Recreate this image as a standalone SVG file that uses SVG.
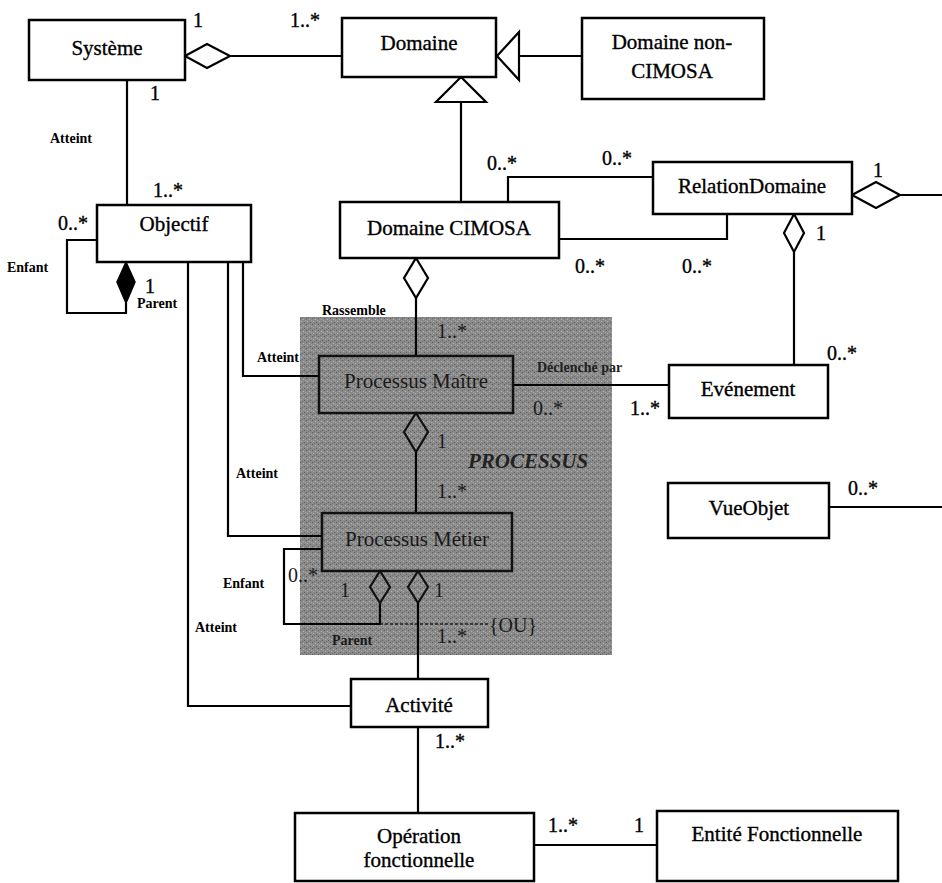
<svg xmlns="http://www.w3.org/2000/svg" width="942" height="883" viewBox="0 0 942 883">
<style>
.box{fill:#fff;stroke:#000;stroke-width:2.5}
.gbox{fill:none;stroke:#111;stroke-width:2.5}
.ln{fill:none;stroke:#000;stroke-width:2.2}
.dash{fill:none;stroke:#222;stroke-width:1.6;stroke-dasharray:3 2}
.dia{fill:#fff;stroke:#000;stroke-width:2.2}
.dia2{fill:none;stroke:#111;stroke-width:2.2}
.fill{fill:#000;stroke:#000;stroke-width:1.5}
.tx{stroke:#000;stroke-width:0.35}
</style>
<defs>
<pattern id="ht" width="6" height="6" patternUnits="userSpaceOnUse">
<rect width="6" height="6" fill="#8a8a8a"/>
<rect x="0" y="0" width="1" height="1" fill="#5a5a5a"/>
<rect x="3" y="1" width="1" height="1" fill="#b4b4b4"/>
<rect x="1" y="3" width="1" height="1" fill="#b0b0b0"/>
<rect x="4" y="4" width="1" height="1" fill="#606060"/>
<rect x="2" y="5" width="1" height="1" fill="#707070"/>
<rect x="5" y="2" width="1" height="1" fill="#a8a8a8"/>
</pattern>
</defs>
<rect width="942" height="883" fill="#fff"/>
<rect id="processus-zone" x="300" y="317" width="312" height="338" fill="url(#ht)"/>
<text x="468" y="468" font-family="Liberation Serif" font-size="21" font-style="italic" font-weight="bold" fill="#222">PROCESSUS</text>

<g id="connectors">
<polygon class="dia" points="185,56 207,44 230,56 207,68"/>
<line class="ln" x1="230" y1="56" x2="342" y2="56"/>
<polygon class="dia" points="497,56 519,32 519,80"/>
<line class="ln" x1="519" y1="56" x2="582" y2="56"/>
<polygon class="dia" points="461,77 486,102 436,102"/>
<line class="ln" x1="461" y1="102" x2="461" y2="202"/>
<line class="ln" x1="127" y1="80" x2="127" y2="205"/>
<polyline class="ln" points="97,240 67,240 67,313 126,313 126,303"/>
<polygon class="fill" points="126,262 135,282 126,303 117,282"/>
<polyline class="ln" points="243,262 243,376 319,376"/>
<polyline class="ln" points="228,262 228,536 322,536"/>
<polyline class="ln" points="188,262 188,706 351,706"/>
<polyline class="ln" points="508,202 508,177 653,177"/>
<polyline class="ln" points="559,239 727,239 727,214"/>
<polygon class="dia" points="416,258 428,278 416,298 404,278"/>
<line class="ln" x1="416" y1="298" x2="416" y2="356"/>
<line class="ln" x1="513" y1="385" x2="669" y2="385"/>
<polygon class="dia" points="852,195 876,182 900,195 876,208"/>
<line class="ln" x1="900" y1="195" x2="942" y2="195"/>
<polygon class="dia" points="794,214 804,233 794,252 784,233"/>
<line class="ln" x1="794" y1="252" x2="794" y2="365"/>
<polygon class="dia2" points="416,413 428,432 416,452 404,432"/>
<line class="ln" x1="416" y1="452" x2="416" y2="513"/>
<line class="ln" x1="829" y1="507" x2="942" y2="507"/>
<polyline class="ln" points="322,549 284,549 284,624 380,624 380,603"/>
<polygon class="dia2" points="380,571 390,587 380,603 370,587"/>
<polygon class="dia2" points="418,571 428,587 418,603 408,587"/>
<line class="dash" x1="380" y1="624" x2="489" y2="624"/>
<line class="ln" x1="418" y1="603" x2="418" y2="679"/>
<line class="ln" x1="418" y1="727" x2="418" y2="813"/>
<line class="ln" x1="534" y1="845" x2="657" y2="845"/>
</g>

<g id="systeme"><rect class="box" x="29" y="20" width="156" height="60"/><text class="tx" font-family="Liberation Serif" font-size="21" text-anchor="middle" x="107" y="55">Système</text></g>
<g id="domaine"><rect class="box" x="342" y="18" width="154" height="59"/><text class="tx" font-family="Liberation Serif" font-size="21" text-anchor="middle" x="419" y="50">Domaine</text></g>
<g id="domaine-non-cimosa"><rect class="box" x="582" y="18" width="182" height="81"/><text class="tx" font-family="Liberation Serif" font-size="21" text-anchor="middle" x="672" y="49">Domaine non-</text><text class="tx" font-family="Liberation Serif" font-size="21" text-anchor="middle" x="672" y="78">CIMOSA</text></g>
<g id="domaine-cimosa"><rect class="box" x="340" y="202" width="219" height="56"/><text class="tx" font-family="Liberation Serif" font-size="21" text-anchor="middle" x="449" y="235">Domaine CIMOSA</text></g>
<g id="relation-domaine"><rect class="box" x="653" y="162" width="199" height="52"/><text class="tx" font-family="Liberation Serif" font-size="21" text-anchor="middle" x="752" y="193">RelationDomaine</text></g>
<g id="objectif"><rect class="box" x="97" y="205" width="154" height="57"/><text class="tx" font-family="Liberation Serif" font-size="21" text-anchor="middle" x="174" y="231">Objectif</text></g>
<g id="processus-maitre"><rect class="gbox" x="319" y="356" width="194" height="57"/><text font-family="Liberation Serif" font-size="21" text-anchor="middle" fill="#1a1a1a" x="416" y="388">Processus Maître</text></g>
<g id="processus-metier"><rect class="gbox" x="322" y="513" width="190" height="58"/><text font-family="Liberation Serif" font-size="21" text-anchor="middle" fill="#1a1a1a" x="417" y="546">Processus Métier</text></g>
<g id="evenement"><rect class="box" x="669" y="365" width="159" height="53"/><text class="tx" font-family="Liberation Serif" font-size="21" text-anchor="middle" x="748" y="396">Evénement</text></g>
<g id="vueobjet"><rect class="box" x="668" y="483" width="161" height="55"/><text class="tx" font-family="Liberation Serif" font-size="21" text-anchor="middle" x="749" y="515">VueObjet</text></g>
<g id="activite"><rect class="box" x="351" y="679" width="137" height="48"/><text class="tx" font-family="Liberation Serif" font-size="21" text-anchor="middle" x="419" y="712">Activité</text></g>
<g id="operation"><rect class="box" x="295" y="813" width="239" height="68"/><text class="tx" font-family="Liberation Serif" font-size="21" text-anchor="middle" x="419" y="843">Opération</text><text class="tx" font-family="Liberation Serif" font-size="21" text-anchor="middle" x="419" y="867">fonctionnelle</text></g>
<g id="entite"><rect class="box" x="657" y="811" width="241" height="70"/><text class="tx" font-family="Liberation Serif" font-size="21" text-anchor="middle" x="777" y="841">Entité Fonctionnelle</text></g>

<g id="multiplicities">
<text class="tx" font-family="Liberation Serif" font-size="20" x="193" y="27">1</text>
<text class="tx" font-family="Liberation Serif" font-size="20" x="290" y="27">1..*</text>
<text class="tx" font-family="Liberation Serif" font-size="20" x="150" y="100">1</text>
<text class="tx" font-family="Liberation Serif" font-size="20" x="153" y="197">1..*</text>
<text class="tx" font-family="Liberation Serif" font-size="20" x="58" y="230">0..*</text>
<text class="tx" font-family="Liberation Serif" font-size="20" x="145" y="293">1</text>
<text class="tx" font-family="Liberation Serif" font-size="20" x="487" y="170">0..*</text>
<text class="tx" font-family="Liberation Serif" font-size="20" x="602" y="165">0..*</text>
<text class="tx" font-family="Liberation Serif" font-size="20" x="873" y="177">1</text>
<text class="tx" font-family="Liberation Serif" font-size="20" x="575" y="273">0..*</text>
<text class="tx" font-family="Liberation Serif" font-size="20" x="682" y="273">0..*</text>
<text class="tx" font-family="Liberation Serif" font-size="20" x="816" y="240">1</text>
<text class="tx" font-family="Liberation Serif" font-size="20" x="827" y="360">0..*</text>
<text class="tx" font-family="Liberation Serif" font-size="20" x="630" y="415">1..*</text>
<text font-family="Liberation Serif" font-size="20" fill="#1a1a1a" x="533" y="415">0..*</text>
<text font-family="Liberation Serif" font-size="20" fill="#1a1a1a" x="437" y="338">1..*</text>
<text font-family="Liberation Serif" font-size="20" fill="#1a1a1a" x="437" y="448">1</text>
<text font-family="Liberation Serif" font-size="20" fill="#1a1a1a" x="437" y="498">1..*</text>
<text font-family="Liberation Serif" font-size="20" fill="#1a1a1a" x="288" y="582">0..*</text>
<text font-family="Liberation Serif" font-size="20" fill="#1a1a1a" x="340" y="597">1</text>
<text font-family="Liberation Serif" font-size="20" fill="#1a1a1a" x="434" y="597">1</text>
<text font-family="Liberation Serif" font-size="20" fill="#1a1a1a" x="489" y="632">{OU}</text>
<text font-family="Liberation Serif" font-size="20" fill="#1a1a1a" x="437" y="643">1..*</text>
<text class="tx" font-family="Liberation Serif" font-size="20" x="435" y="748">1..*</text>
<text class="tx" font-family="Liberation Serif" font-size="20" x="548" y="832">1..*</text>
<text class="tx" font-family="Liberation Serif" font-size="20" x="634" y="832">1</text>
<text class="tx" font-family="Liberation Serif" font-size="20" x="848" y="495">0..*</text>
</g>
<g id="role-labels">
<text font-family="Liberation Serif" font-size="14" font-weight="bold" x="50" y="143">Atteint</text>
<text font-family="Liberation Serif" font-size="14" font-weight="bold" x="7" y="272">Enfant</text>
<text font-family="Liberation Serif" font-size="14" font-weight="bold" x="137" y="308">Parent</text>
<text font-family="Liberation Serif" font-size="14" font-weight="bold" fill="#222" x="537" y="372">Déclenché par</text>
<text font-family="Liberation Serif" font-size="14" font-weight="bold" x="322" y="315">Rassemble</text>
<text font-family="Liberation Serif" font-size="14" font-weight="bold" x="257" y="362">Atteint</text>
<text font-family="Liberation Serif" font-size="14" font-weight="bold" x="236" y="478">Atteint</text>
<text font-family="Liberation Serif" font-size="14" font-weight="bold" x="223" y="588">Enfant</text>
<text font-family="Liberation Serif" font-size="14" font-weight="bold" fill="#1a1a1a" x="332" y="645">Parent</text>
<text font-family="Liberation Serif" font-size="14" font-weight="bold" x="195" y="632">Atteint</text>
</g>
</svg>
